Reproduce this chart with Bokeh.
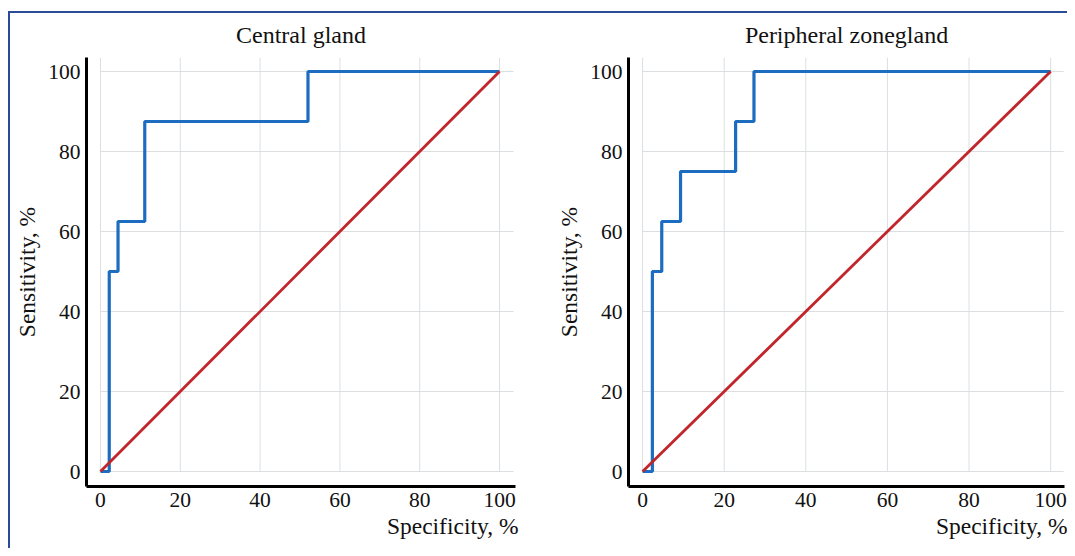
from bokeh.plotting import figure
from bokeh.layouts import row
from bokeh.models import Range1d, FixedTicker, Title
from bokeh.embed import file_html
from bokeh.resources import INLINE

# ---- data ----
ticks = [0, 20, 40, 60, 80, 100]
diag_x = [0, 100]
diag_y = [0, 100]

cg_spec = [0, 2.2, 4.4, 11.1, 52, 100]
cg_sens = [0, 50, 62.5, 87.5, 100, 100]

pz_spec = [0, 2.4, 4.7, 9.3, 22.8, 27.3, 100]
pz_sens = [0, 50, 62.5, 75, 87.5, 100, 100]

titles = ["Central gland", "Peripheral zonegland"]
xlabel = "Specificity, %"
ylabel = "Sensitivity, %"

FONT = "Liberation Serif"
BLUE = "#1c6cbf"
RED = "#c0262b"
GRID = "#dcdfe2"


def make(title, sx, sy, width, mbl, mbr, xr, grid_end):
    p = figure(width=width, height=535, output_backend="svg", toolbar_location=None,
               x_range=Range1d(*xr), y_range=Range1d(-3.75, 103.5),
               min_border_left=mbl, min_border_right=mbr,
               min_border_top=44, min_border_bottom=62)
    p.title.text = title
    p.title.align = "center"
    p.title.vertical_align = "top"
    p.title.text_font = FONT
    p.title.text_font_size = "24px"
    p.title.text_font_style = "normal"
    p.title.text_color = "#111111"
    p.title.standoff = 16
    p.outline_line_color = None
    p.xgrid.visible = False
    p.ygrid.visible = False
    # grid lines limited to the data area
    p.segment(x0=ticks, y0=[0] * len(ticks), x1=ticks, y1=[103.5] * len(ticks),
              line_color=GRID, line_width=1)
    p.segment(x0=[0] * len(ticks), y0=ticks, x1=[grid_end] * len(ticks), y1=ticks,
              line_color=GRID, line_width=1)
    p.step(sx, sy, mode="after", line_color=BLUE, line_width=3.2)
    p.line(diag_x, diag_y, line_color=RED, line_width=2.8)
    for ax in (p.xaxis[0], p.yaxis[0]):
        ax.ticker = FixedTicker(ticks=ticks)
        ax.major_tick_in = 0
        ax.major_tick_out = 0
        ax.minor_tick_in = 0
        ax.minor_tick_out = 0
        ax.axis_line_width = 3
        ax.axis_line_color = "black"
        ax.major_label_text_font = FONT
        ax.major_label_text_font_size = "21.5px"
        ax.major_label_text_color = "#111111"
        ax.major_label_standoff = 6
    p.yaxis[0].axis_label = ylabel
    p.yaxis[0].axis_label_text_font = FONT
    p.yaxis[0].axis_label_text_font_size = "23.5px"
    p.yaxis[0].axis_label_text_font_style = "normal"
    p.yaxis[0].axis_label_text_color = "#111111"
    p.yaxis[0].axis_label_standoff = 5
    p.add_layout(Title(text=xlabel, align="right", text_font=FONT,
                       text_font_size="23.5px", text_font_style="normal",
                       text_color="#111111", standoff=3, offset=-3), "below")
    return p


p1 = make(titles[0], cg_spec, cg_sens, 543, 76, 38, (-3.5, 104), 103.5)
p2 = make(titles[1], pz_spec, pz_sens, 514, 75, 3, (-3.45, 103.4), 103.2)

layout = row(p1, p2, styles={"border-top": "2px solid #2a4c96",
                             "border-left": "2px solid #2a4c96",
                             "margin-top": "11px",
                             "margin-left": "8px"})

open("out.html", "w").write(file_html(layout, INLINE))
